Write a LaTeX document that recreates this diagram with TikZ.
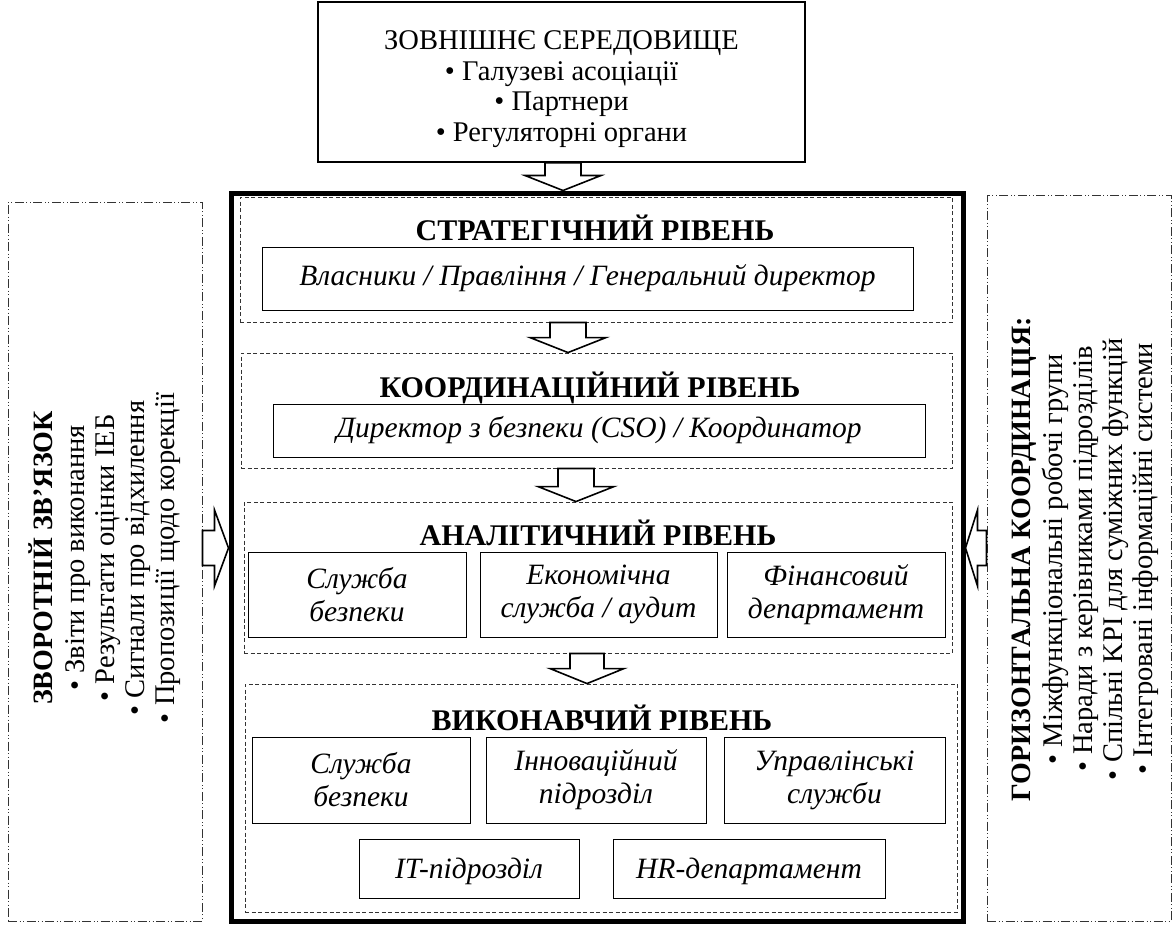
\documentclass[tikz,border=0pt]{standalone}
\usepackage{fontspec}
\setmainfont{Liberation Serif}
\usetikzlibrary{calc}
\newcommand\sidetitlefont{\fontsize{28}{30}\selectfont\bfseries}
\newcommand\arrdown[5]{%
\draw[barrow] let \p1=(#2), \p2=(#3) in
 ({(#1-#4)*1pt},\y1) -- ({(#1-#4)*1pt},{\y2+15pt}) -- ({(#1-#5)*1pt},{\y2+15pt}) -- ({#1*1pt},\y2)
 -- ({(#1+#5)*1pt},{\y2+15pt}) -- ({(#1+#4)*1pt},{\y2+15pt}) -- ({(#1+#4)*1pt},\y1) -- cycle;}
\newcommand\arrhor[6]{% #1 y centre, #2 from, #3 to, #4 shaft half, #5 head half, #6 head length (signed)
\draw[barrow] let \p1=(#2), \p2=(#3) in
 (\x1,{(#1+#4)*1pt}) -- ({\x2-#6pt},{(#1+#4)*1pt}) -- ({\x2-#6pt},{(#1+#5)*1pt}) -- (\x2,{#1*1pt})
 -- ({\x2-#6pt},{(#1-#5)*1pt}) -- ({\x2-#6pt},{(#1-#4)*1pt}) -- (\x1,{(#1-#4)*1pt}) -- cycle;}
\begin{document}
\begin{tikzpicture}[x=1pt,y=1pt,
  box/.style={draw=black, line width=1pt, inner sep=0pt, align=center},
  extbox/.style={draw=black, line width=1.4pt, inner sep=0pt},
  exttext/.style={align=center, inner sep=0pt, font=\fontsize{28.5}{30.5}\selectfont},
  outerbox/.style={draw=black, line width=5pt, inner sep=0pt},
  levelbox/.style={draw=black!80, line width=0.9pt, dash pattern=on 4pt off 2.5pt, inner sep=0pt},
  sidebox/.style={draw=black!80, line width=1pt, dash pattern=on 9pt off 2.5pt on 1pt off 2.5pt on 1pt off 2.5pt, inner sep=0pt},
  unit/.style={box, font=\fontsize{29.5}{33}\selectfont\itshape},
  leveltitle/.style={font=\fontsize{30}{30}\selectfont\bfseries, inner sep=0pt, anchor=base},
  sidetext/.style={rotate=90, align=center, inner sep=0pt, font=\fontsize{28.5}{30}\selectfont},
  barrow/.style={draw=black, fill=white, line width=1.6pt, line join=miter}
]
\useasboundingbox (0,0) rectangle (1175,-926);

% external environment
\node[extbox, minimum width=487pt, minimum height=160pt] (ext) at (561.5,-82) {};
\node[exttext] (extlabel) at (561.5,-89)
  {ЗОВНІШНЄ СЕРЕДОВИЩЕ\\ • Галузеві асоціації\\ • Партнери\\ • Регуляторні органи};

% outer frame
\node[outerbox, minimum width=732pt, minimum height=728pt] (outer) at (597,-557) {};

% side boxes
\node[sidebox, minimum width=194pt, minimum height=719pt] (fb) at (105,-561.5) {};
\node[sidebox, minimum width=184pt, minimum height=726pt] (hc) at (1079,-558) {};
\node[sidetext] (fbtext) at (105,-558)
  {{\sidetitlefont ЗВОРОТНІЙ ЗВ\symbol{39}ЯЗОК}\\[2pt]
   • Звіти про виконання\\ • Результати оцінки ІЕБ\\ • Сигнали про відхилення\\ • Пропозиції щодо корекції};
\node[sidetext] (hctext) at (1085,-559)
  {{\sidetitlefont ГОРИЗОНТАЛЬНА КООРДИНАЦІЯ:}\\[2pt]
   • Міжфункціональні робочі групи\\ • Наради з керівниками підрозділів\\ • Спільні KPI для суміжних функцій\\ • Інтегровані інформаційні системи};

% strategic level
\node[levelbox, minimum width=712pt, minimum height=125pt] (strat) at (596,-259.5) {};
\node[leveltitle] (strattitle) at (595,-240) {СТРАТЕГІЧНИЙ РІВЕНЬ};
\node[unit, minimum width=651pt, minimum height=63pt] (stratbox) at (587.5,-278.5)
  {Власники / Правління / Генеральний директор};

% coordination level
\node[levelbox, minimum width=711pt, minimum height=115pt] (coord) at (596.5,-410.5) {};
\node[leveltitle] (coordtitle) at (590,-397) {КООРДИНАЦІЙНИЙ РІВЕНЬ};
\node[unit, minimum width=652pt, minimum height=53pt] (coordbox) at (599,-430.5)
  {Директор з безпеки (CSO) / Координатор};

% analytical level
\node[levelbox, minimum width=708pt, minimum height=151pt] (anal) at (598,-577.5) {};
\node[leveltitle] (analtitle) at (598,-545) {АНАЛІТИЧНИЙ РІВЕНЬ};
\node[unit, minimum width=218pt, minimum height=85pt] (a1) at (357,-594.5) {Служба\\безпеки};
\node[unit, minimum width=237pt, minimum height=85pt] (a2) at (598.5,-594.5) {Економічна\\служба / аудит};
\node[unit, minimum width=218pt, minimum height=85pt] (a3) at (836,-594.5) {Фінансовий\\департамент};

% executive level
\node[levelbox, minimum width=712pt, minimum height=228pt] (exec) at (601,-798) {};
\node[leveltitle] (exectitle) at (602,-730) {ВИКОНАВЧИЙ РІВЕНЬ};
\node[unit, minimum width=218pt, minimum height=86pt] (e1) at (361,-780) {Служба\\безпеки};
\node[unit, minimum width=220pt, minimum height=86pt] (e2) at (596,-780) {Інноваційний\\підрозділ};
\node[unit, minimum width=221pt, minimum height=86pt] (e3) at (834.5,-780) {Управлінські\\служби};
\node[unit, minimum width=220pt, minimum height=59pt, text depth=0pt] (e4) at (469,-868.5) {IT-підрозділ};
\node[unit, minimum width=272pt, minimum height=59pt, text depth=0pt] (e5) at (749,-868.5) {HR-департамент};

% block arrows
\arrdown{563}{ext.south}{outer.north}{18}{38}
\arrdown{568}{strat.south}{coord.north}{18}{38}
\arrdown{576}{coord.south}{anal.north}{18}{38}
\arrdown{587}{anal.south}{exec.north}{17}{37}
\arrhor{-548}{fb.east}{outer.west}{17.5}{38}{14}
\arrhor{-548}{hc.west}{outer.east}{17.5}{38}{-12}
\end{tikzpicture}
\end{document}
